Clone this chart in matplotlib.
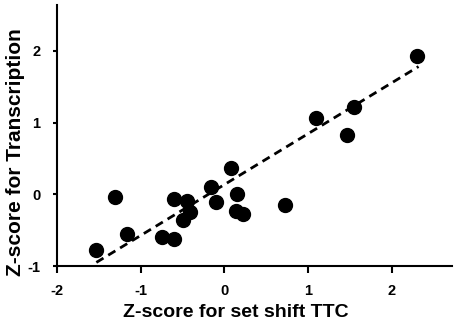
import numpy as np
import matplotlib
matplotlib.use('Agg')
import matplotlib.pyplot as plt

# z-scores
set_shift_ttc = [-1.54, -1.31, -1.16, -0.74, -0.60, -0.60, -0.45, -0.41, -0.49, -0.16,
                 -0.10, 0.08, 0.15, 0.14, 0.22, 0.72, 1.10, 1.47, 1.55, 2.30]
transcription = [-0.77, -0.04, -0.56, -0.60, -0.63, -0.06, -0.09, -0.25, -0.36, 0.10,
                 -0.11, 0.36, 0.01, -0.24, -0.27, -0.15, 1.06, 0.83, 1.22, 1.93]

# regression line end points
fit_x = [-1.53, 2.32]
fit_y = [-0.95, 1.78]

x_ticks = [-2, -1, 0, 1, 2]
y_ticks = [-1, 0, 1, 2]

plt.rcParams['font.family'] = ['Liberation Sans', 'DejaVu Sans']
plt.rcParams['font.weight'] = 'bold'
plt.rcParams['axes.unicode_minus'] = False

fig = plt.figure(figsize=(4.54, 3.24), dpi=100)
ax = fig.add_axes([0.1256, 0.179, 0.87, 0.806])

ax.scatter(set_shift_ttc, transcription, s=100, color='black', zorder=3)
ax.plot(fit_x, fit_y, color='black', lw=2, dashes=(3, 2))

ax.set_xlim(-2, 2.72)
ax.set_ylim(-1.0, 2.64)
ax.set_xticks(x_ticks)
ax.set_yticks(y_ticks)

for side in ['top', 'right']:
    ax.spines[side].set_visible(False)
for side in ['left', 'bottom']:
    ax.spines[side].set_linewidth(1.5)

ax.tick_params(axis='x', width=1.5, length=5, labelsize=10.5, pad=8)
ax.tick_params(axis='y', width=1.5, length=3, labelsize=10.5, pad=9)
ax.set_xlabel('Z-score for set shift TTC', fontsize=14, fontweight='bold')
ax.set_ylabel('Z-score for Transcription', fontsize=15, fontweight='bold')
ax.xaxis.set_label_coords(0.453, -0.145)
ax.yaxis.set_label_coords(-0.08, 0.435)

fig.savefig('out.png', dpi=100)
